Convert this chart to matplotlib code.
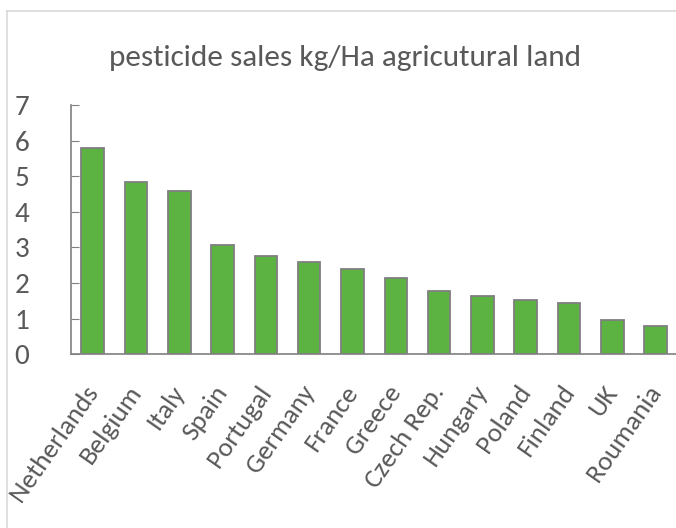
import matplotlib.pyplot as plt
from matplotlib.lines import Line2D

# =====================================================
# Data
# =====================================================
countries = [
    "Netherlands", "Belgium", "Italy", "Spain", "Portugal", "Germany",
    "France", "Greece", "Czech Rep.", "Hungary", "Poland", "Finland",
    "UK", "Roumania"
]
sales = [5.8, 4.83, 4.6, 3.06, 2.76, 2.6, 2.4, 2.15, 1.77, 1.64, 1.53, 1.44, 0.96, 0.8]
y_ticks = [0, 1, 2, 3, 4, 5, 6, 7]

TEXT = "#595959"
AXIS = "#808080"

plt.rcParams["font.family"] = ["Carlito", "DejaVu Sans"]

fig = plt.figure(figsize=(6.76, 5.28), dpi=100)
ax = fig.add_axes([0.105, 0.329, 0.897, 0.472])

# chart border (only left and top visible in the crop)
fig.add_artist(Line2D([7 / 676, 7 / 676], [0, 1 - 11 / 528], color="#d9d9d9", lw=1.2))
fig.add_artist(Line2D([7 / 676, 1], [1 - 11 / 528, 1 - 11 / 528], color="#d9d9d9", lw=1.2))

x = range(len(countries))
ax.bar(
    x,
    sales,
    width=0.52,
    color="#5db342",
    edgecolor="#7f7f7f",
    linewidth=1.3
)

ax.set_xlim(-0.5, len(countries) - 0.5)
ax.set_ylim(0, 7)
ax.set_yticks(y_ticks)
ax.set_xticks(list(x))
ax.set_xticklabels(
    countries,
    rotation=55,
    ha="right",
    va="center",
    rotation_mode="anchor",
    color=TEXT,
    fontsize=19.5
)
ax.tick_params(axis="x", length=0, pad=24)
ax.tick_params(axis="y", direction="in", length=6, color=AXIS,
               labelsize=21, labelcolor=TEXT, pad=30)

for side in ["top", "right"]:
    ax.spines[side].set_visible(False)
for side in ["left", "bottom"]:
    ax.spines[side].set_color(AXIS)
    ax.spines[side].set_linewidth(1.2)

fig.text(0.51, 1 - 58 / 528, "pesticide sales kg/Ha agricutural land",
         ha="center", va="center", fontsize=22.5, color=TEXT)

fig.savefig("out.png", dpi=100)
